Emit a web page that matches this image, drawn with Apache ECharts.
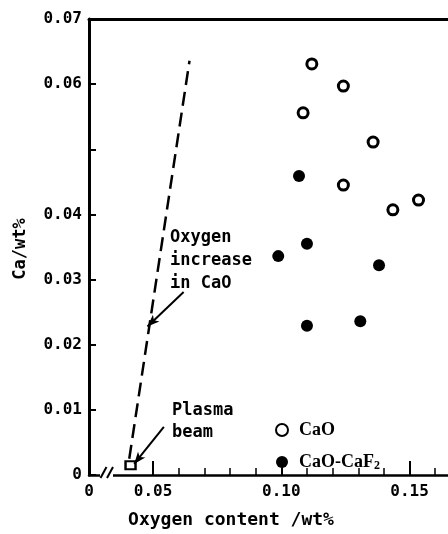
<!DOCTYPE html>
<html>
<head>
<meta charset="utf-8">
<script src="https://cdn.jsdelivr.net/npm/echarts@6/dist/echarts.min.js"></script>
<style>
  html, body { margin: 0; padding: 0; background: #fff; }
  #chart { width: 448px; height: 534px; }
</style>
</head>
<body>
<div id="chart"></div>
<script>
  // CaO flux
  const caoX = [0.1119, 0.1242, 0.1085, 0.1358, 0.1242, 0.1435, 0.1535];
  const caoY = [0.0631, 0.0597, 0.0556, 0.0511, 0.0445, 0.0407, 0.0422];
  // CaO-CaF2 flux
  const cafX = [0.1069, 0.1100, 0.0988, 0.1381, 0.1100, 0.1308];
  const cafY = [0.0459, 0.0355, 0.0336, 0.0322, 0.0229, 0.0236];
  // plasma beam point and oxygen increase line
  const beamX = [0.0412];
  const beamY = [0.0015];
  const lineX = [0.0407, 0.0642];
  const lineY = [0.0025, 0.0636];
  // arrows: [fromX, fromY, toX, toY]
  const arrowOxy = [0.0619, 0.0281, 0.0478, 0.0228];
  const arrowBeam = [0.0542, 0.0074, 0.0426, 0.0017];

  const seriesNames = ['CaO', 'CaO-CaF2'];
  const xMajorTicks = [0.05, 0.10, 0.15];
  const xMinorTicks = [0.06, 0.07, 0.08, 0.09, 0.11, 0.12, 0.13, 0.14, 0.16];
  const xLabelValues = [0.025, 0.05, 0.10, 0.15];
  const xTickLabels = ['0', '0.05', '0.10', '0.15'];
  const yTickLabels = ['0', '0.01', '0.02', '0.03', '0.04', '', '0.06', '0.07'];

  const pairs = (xs, ys) => xs.map((x, i) => [x, ys[i]]);

  const chart = echarts.init(document.getElementById('chart'));

  const xBase = {
    type: 'value',
    min: 0.025,
    max: 0.165,
    position: 'bottom',
    splitLine: { show: false },
    axisLabel: { show: false },
    axisTick: { show: false },
    axisLine: { show: false }
  };

  chart.setOption({
    animation: false,
    backgroundColor: '#fff',
    grid: { left: 89, top: 19, width: 365, height: 456 },
    legend: {
      orient: 'vertical',
      left: 270,
      top: 416,
      itemGap: 14,
      itemWidth: 24,
      itemHeight: 12,
      data: seriesNames,
      formatter: name => name === 'CaO-CaF2' ? 'CaO-CaF{sub|2}' : name,
      textStyle: {
        color: '#000',
        fontFamily: 'Liberation Serif',
        fontWeight: 'bold',
        fontSize: 18,
        rich: {
          sub: { fontFamily: 'Liberation Serif', fontWeight: 'bold', fontSize: 12, verticalAlign: 'bottom', padding: [8, 0, 0, 0] }
        }
      }
    },
    xAxis: [
      Object.assign({}, xBase, {
        axisLine: { show: true, lineStyle: { color: '#000', width: 2.5 } },
        axisTick: { show: true, inside: true, length: 14, customValues: xMajorTicks, lineStyle: { color: '#000', width: 2 } },
        axisLabel: {
          show: true,
          customValues: xLabelValues,
          margin: 9,
          color: '#000',
          fontFamily: 'DejaVu Sans Mono',
          fontWeight: 'bold',
          fontSize: 16,
          formatter: v => {
            let i = xLabelValues.findIndex(t => Math.abs(t - v) < 1e-6);
            return i >= 0 ? xTickLabels[i] : '';
          }
        }
      }),
      Object.assign({}, xBase, {
        axisTick: { show: true, inside: true, length: 7, customValues: xMinorTicks, lineStyle: { color: '#000', width: 1.5 } }
      }),
      Object.assign({}, xBase, {
        position: 'top',
        axisLine: { show: true, lineStyle: { color: '#000', width: 3 } }
      })
    ],
    yAxis: {
      type: 'value',
      min: 0,
      max: 0.07,
      interval: 0.01,
      splitLine: { show: false },
      axisLine: { show: true, lineStyle: { color: '#000', width: 3 } },
      axisTick: { inside: true, length: 7, lineStyle: { color: '#000', width: 2 } },
      axisLabel: {
        margin: 7,
        color: '#000',
        fontFamily: 'DejaVu Sans Mono',
        fontWeight: 'bold',
        fontSize: 16,
        formatter: v => yTickLabels[Math.round(v * 100)]
      }
    },
    series: [
      {
        name: 'CaO',
        type: 'scatter',
        symbol: 'circle',
        symbolSize: 10,
        itemStyle: { color: '#fff', borderColor: '#000', borderWidth: 3, opacity: 1 },
        data: pairs(caoX, caoY)
      },
      {
        name: 'CaO-CaF2',
        type: 'scatter',
        symbol: 'circle',
        symbolSize: 12,
        itemStyle: { color: '#000', opacity: 1 },
        data: pairs(cafX, cafY)
      },
      {
        name: 'increase',
        type: 'line',
        symbol: 'none',
        silent: true,
        lineStyle: { color: '#000', width: 2.5, type: [14, 7] },
        data: pairs(lineX, lineY),
        markLine: {
          silent: true,
          symbol: ['none', 'arrow'],
          symbolSize: [7, 12],
          label: { show: false },
          lineStyle: { color: '#000', width: 2, type: 'solid' },
          data: [
            [{ coord: [arrowOxy[0], arrowOxy[1]] }, { coord: [arrowOxy[2], arrowOxy[3]] }],
            [{ coord: [arrowBeam[0], arrowBeam[1]] }, { coord: [arrowBeam[2], arrowBeam[3]] }]
          ]
        }
      },
      {
        name: 'beam',
        type: 'scatter',
        symbol: 'rect',
        symbolSize: [10, 8],
        itemStyle: { color: '#fff', borderColor: '#000', borderWidth: 2.2, opacity: 1 },
        data: pairs(beamX, beamY)
      }
    ],
    graphic: [
      // axis break marks
      { type: 'rect', shape: { x: 100, y: 470, width: 13, height: 10 }, style: { fill: '#fff' }, z: 100 },
      { type: 'line', shape: { x1: 100.5, y1: 478, x2: 106.5, y2: 467 }, style: { stroke: '#000', lineWidth: 2 }, z: 101 },
      { type: 'line', shape: { x1: 107, y1: 478, x2: 113, y2: 467 }, style: { stroke: '#000', lineWidth: 2 }, z: 101 },
      // annotations
      { type: 'text', x: 170, y: 226, style: { text: 'Oxygen\nincrease\nin CaO', font: 'bold 17px "DejaVu Sans Mono"', lineHeight: 23, fill: '#000' }, z: 100 },
      { type: 'text', x: 172, y: 400, style: { text: 'Plasma\nbeam', font: 'bold 17px "DejaVu Sans Mono"', lineHeight: 22, fill: '#000' }, z: 100 },
      // axis titles
      { type: 'text', x: 231, y: 520, style: { text: 'Oxygen content /wt%', font: 'bold 18px "DejaVu Sans Mono"', align: 'center', verticalAlign: 'middle', fill: '#000' } },
      { type: 'text', x: 21, y: 249, rotation: Math.PI / 2, style: { text: 'Ca/wt%', font: 'bold 17px "DejaVu Sans Mono"', align: 'center', verticalAlign: 'middle', fill: '#000' } }
    ]
  });
</script>
</body>
</html>
